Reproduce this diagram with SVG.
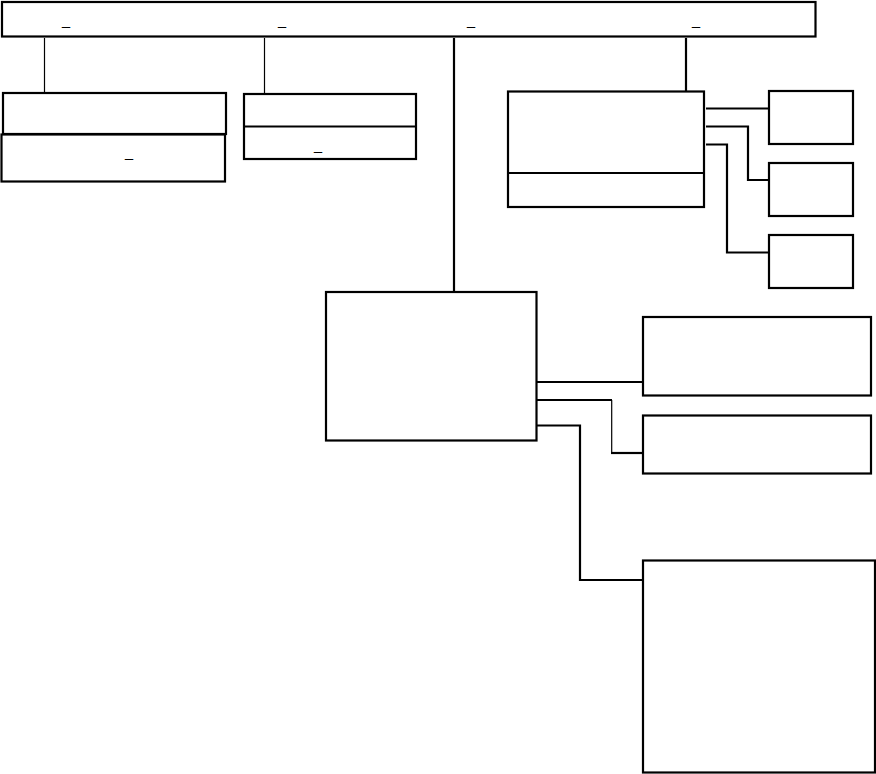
<svg xmlns="http://www.w3.org/2000/svg" width="876" height="774" viewBox="0 0 876 774">
<style>
.box{fill:#fff;stroke:#000;stroke-width:2.2}
.thin{fill:none;stroke:#000;stroke-width:1.2}
.thick{fill:none;stroke:#000;stroke-width:2.2}
.lbl{font-family:"Liberation Sans",Arial,sans-serif;font-size:14.5px;fill:#000}
</style>
<rect width="876" height="774" fill="#fff"/>
<g id="connectors">
<path class="thin" d="M44.5,38V93"/>
<path class="thin" d="M264.5,38V96"/>
<path class="thick" d="M454,38V292"/>
<path class="thick" d="M686,38V92"/>
<path class="thick" d="M706,108.5H769"/>
<path class="thick" d="M706,126.5H748V180H769"/>
<path class="thick" d="M706,144.5H727V252.5H769"/>
<path class="thick" d="M537,382H643"/>
<path class="thick" d="M537,400H612"/>
<path class="thin" d="M611.7,400V453"/>
<path class="thick" d="M611,453H643"/>
<path class="thick" d="M537,425.5H580V580H643"/>
</g>
<g id="top">
<rect class="box" x="2" y="2" width="813.5" height="34.5"/>
<text class="lbl" x="62" y="25">_</text>
<text class="lbl" x="278" y="25">_</text>
<text class="lbl" x="467" y="25">_</text>
<text class="lbl" x="692" y="25">_</text>
</g>
<g id="left-top">
<rect class="box" x="3" y="93" width="223" height="41"/>
</g>
<g id="left-bottom">
<rect class="box" x="1.5" y="134.5" width="223.5" height="47"/>
<text class="lbl" x="125" y="156.5">_</text>
</g>
<g id="mid">
<rect class="box" x="244" y="94" width="172" height="65"/>
<path class="thick" d="M244,126.5H416"/>
<text class="lbl" x="314" y="150">_</text>
</g>
<g id="right">
<rect class="box" x="508" y="91.5" width="196" height="115.5"/>
<path class="thick" d="M508,173H704"/>
</g>
<g id="small1"><rect class="box" x="769" y="91" width="84" height="53"/></g>
<g id="small2"><rect class="box" x="769" y="163" width="84" height="53"/></g>
<g id="small3"><rect class="box" x="769" y="235" width="84" height="53"/></g>
<g id="center"><rect class="box" x="326" y="292" width="210.5" height="148.5"/></g>
<g id="r1"><rect class="box" x="643" y="317" width="228" height="78.5"/></g>
<g id="r2"><rect class="box" x="643" y="415.5" width="228" height="58"/></g>
<g id="big"><rect class="box" x="643" y="560.5" width="232" height="212"/></g>
</svg>
